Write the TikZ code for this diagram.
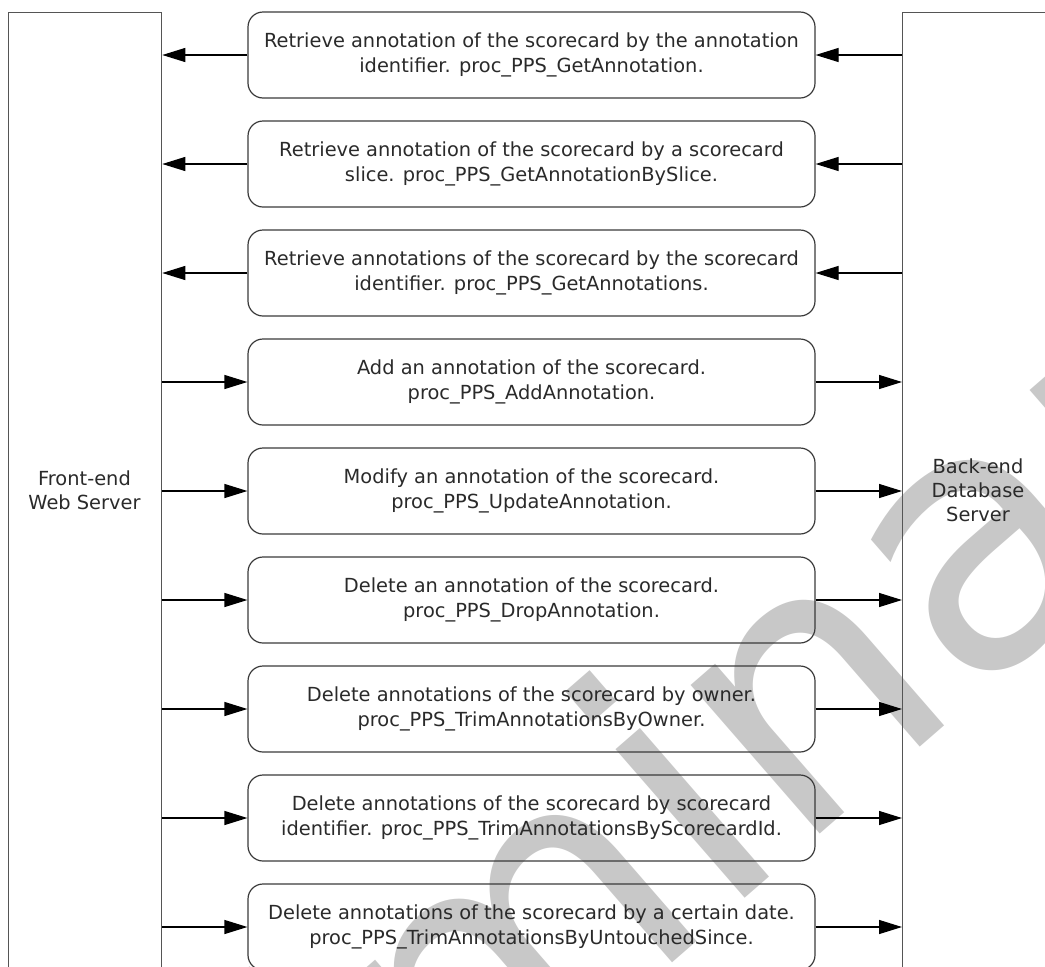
\documentclass[tikz,border=0pt]{standalone}
\usepackage{fontspec}
\setmainfont{DejaVu Sans}
\usetikzlibrary{arrows.meta}
\definecolor{ink}{HTML}{2A2A2A}
\definecolor{edge}{HTML}{3A3A3A}
\definecolor{lanecol}{HTML}{555555}
\definecolor{wm}{HTML}{C8C8C8}

\begin{document}
\begin{tikzpicture}[x=1pt,y=-1pt,
  proc/.style={draw=edge, line width=1.2pt, rounded corners=15pt,
    minimum width=567pt, minimum height=86pt, inner sep=0pt,
    align=center, text=ink, font=\fontsize{19.4}{25}\selectfont},
  lane/.style={draw=lanecol, line width=1.3pt, minimum width=153pt,
    minimum height=1100pt, anchor=north west, inner sep=0pt},
  lanetext/.style={align=center, text=ink, font=\fontsize{19.4}{24}\selectfont},
  msg/.style={draw=black, line width=1.2pt,
    -{Triangle[length=23pt,width=14pt]}},
  stamp/.style={rotate=41, anchor=base west, inner sep=0pt, text=wm,
    font=\fontsize{360}{400}\selectfont}]

\useasboundingbox (0,0) rectangle (1045,967);
\clip (0,0) rectangle (1045,967);

% background stamp
\node[stamp] (mark) at (-128,1658) {Preliminary};

% the two servers
\node[lane] (fe) at (8,11.7) {};
\node[lane] (be) at (902,11.7) {};
\node[lanetext] (fetext) at (84.5,490) {Front-end\\Web Server};
\node[lanetext] (betext) at (978,490) {Back-end\\Database\\Server};

% stored procedures
\node[proc] (p1) at (531.5,55)  {Retrieve annotation of the scorecard by the annotation\\identifier. proc\_PPS\_GetAnnotation.};
\node[proc] (p2) at (531.5,164) {Retrieve annotation of the scorecard by a scorecard\\slice. proc\_PPS\_GetAnnotationBySlice.};
\node[proc] (p3) at (531.5,273) {Retrieve annotations of the scorecard by the scorecard\\identifier. proc\_PPS\_GetAnnotations.};
\node[proc] (p4) at (531.5,382) {Add an annotation of the scorecard.\\proc\_PPS\_AddAnnotation.};
\node[proc] (p5) at (531.5,491) {Modify an annotation of the scorecard.\\proc\_PPS\_UpdateAnnotation.};
\node[proc] (p6) at (531.5,600) {Delete an annotation of the scorecard.\\proc\_PPS\_DropAnnotation.};
\node[proc] (p7) at (531.5,709) {Delete annotations of the scorecard by owner.\\proc\_PPS\_TrimAnnotationsByOwner.};
\node[proc] (p8) at (531.5,818) {Delete annotations of the scorecard by scorecard\\identifier. proc\_PPS\_TrimAnnotationsByScorecardId.};
\node[proc] (p9) at (531.5,927) {Delete annotations of the scorecard by a certain date.\\proc\_PPS\_TrimAnnotationsByUntouchedSince.};

% reads: database -> procedure -> web server
\foreach \p in {p1,p2,p3}{
  \draw[msg] (\p.west) -- (\p.west -| fe.east);
  \draw[msg] (\p.east -| be.west) -- (\p.east);
}
% writes: web server -> procedure -> database
\foreach \p in {p4,p5,p6,p7,p8,p9}{
  \draw[msg] (\p.west -| fe.east) -- (\p.west);
  \draw[msg] (\p.east) -- (\p.east -| be.west);
}
\end{tikzpicture}
\end{document}
